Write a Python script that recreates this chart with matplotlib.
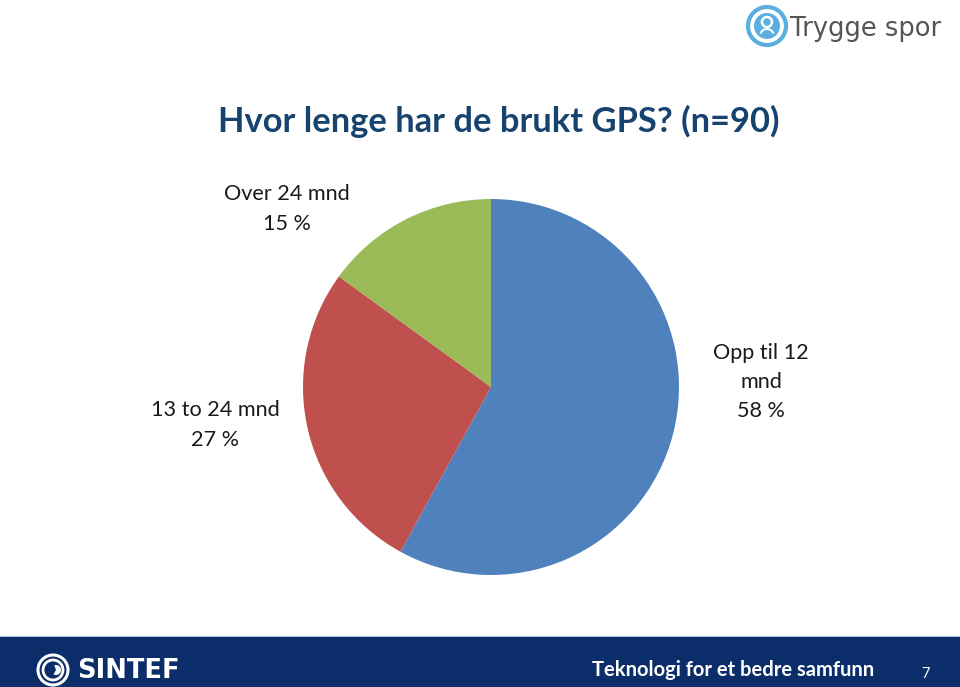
import numpy as np
import matplotlib
matplotlib.use('Agg')
import matplotlib.pyplot as plt
from matplotlib.patches import Rectangle, Circle, Wedge

# data
categories = ['Opp til 12\nmnd', '13 to 24 mnd', 'Over 24 mnd']
shares = [58, 27, 15]
colors = ['#4f81bd', '#c0504d', '#9bbb59']

title = 'Hvor lenge har de brukt GPS? (n=90)'
footer = 'Teknologi for et bedre samfunn'
page = '7'

W, H = 960, 687
plt.rcParams['font.family'] = ['Lato', 'DejaVu Sans']

fig = plt.figure(figsize=(W / 100, H / 100), dpi=100)

def fx(px):
	return px / W

def fy(py):
	return 1 - py / H

# pie, centre (491, 387), radius 188 px
cx, cy, r = 491, 387, 188
ax = fig.add_axes([fx(cx - r), fy(cy + r), 2 * r / W, 2 * r / H])
ax.pie(shares, colors=colors, startangle=90, counterclock=False,
	wedgeprops=dict(linewidth=0))
ax.set_xlim(-1, 1)
ax.set_ylim(-1, 1)
ax.set_aspect('auto')
ax.axis('off')

# labels with percentages
label_pos = [(761, 382), (215, 425), (287, 209)]
for (lx, ly), cat, s in zip(label_pos, categories, shares):
	fig.text(fx(lx), fy(ly), '%s\n%d %%' % (cat, s), ha='center', va='center',
		fontsize=15.6, color='#1a1a1a', linespacing=1.58)

# title
fig.text(fx(499), fy(121), title, ha='center', va='center', fontsize=24.8,
	fontweight='bold', color='#17436f')

# footer band
fig.add_artist(Rectangle((0, 0), 1, fy(637), transform=fig.transFigure,
	facecolor='#0b2d69', edgecolor='none'))
fig.add_artist(Rectangle((0, fy(637)), 1, 1.5 / H, transform=fig.transFigure,
	facecolor='#a9c4da', edgecolor='none'))
fig.text(fx(733), fy(670), footer, ha='center', va='center', fontsize=14.5,
	fontweight='bold', color='white')
fig.text(fx(925), fy(674), page, ha='center', va='center', fontsize=10.5,
	color='white')

# logos
lax = fig.add_axes([0, 0, 1, 1], facecolor='none', zorder=5)
lax.set_xlim(0, W)
lax.set_ylim(H, 0)
lax.axis('off')
lax.add_patch(Circle((53, 670), 15, facecolor='none', edgecolor='white', lw=2.2))
lax.add_patch(Circle((53, 670), 10, facecolor='none', edgecolor='white', lw=2))
lax.add_patch(Wedge((56, 670), 5, -110, 120, facecolor='white', edgecolor='none'))
lax.text(77, 671, 'SINTEF', ha='left', va='center', fontsize=18.5,
	fontweight='bold', color='white', family=['DejaVu Sans'])

lax.add_patch(Circle((767, 26), 19, facecolor='none', edgecolor='#5aafdf', lw=3))
lax.add_patch(Circle((767, 26), 13, facecolor='#5aafdf', edgecolor='none'))
lax.add_patch(Circle((767, 22), 5, facecolor='none', edgecolor='white', lw=1.8))
lax.add_patch(Wedge((767, 36), 8, 200, 340, width=2, facecolor='white', edgecolor='none'))
lax.text(790, 29, 'Trygge spor', ha='left', va='center', fontsize=18.5,
	color='#555555', family=['DejaVu Sans'])

fig.savefig('out.png', dpi=100)
